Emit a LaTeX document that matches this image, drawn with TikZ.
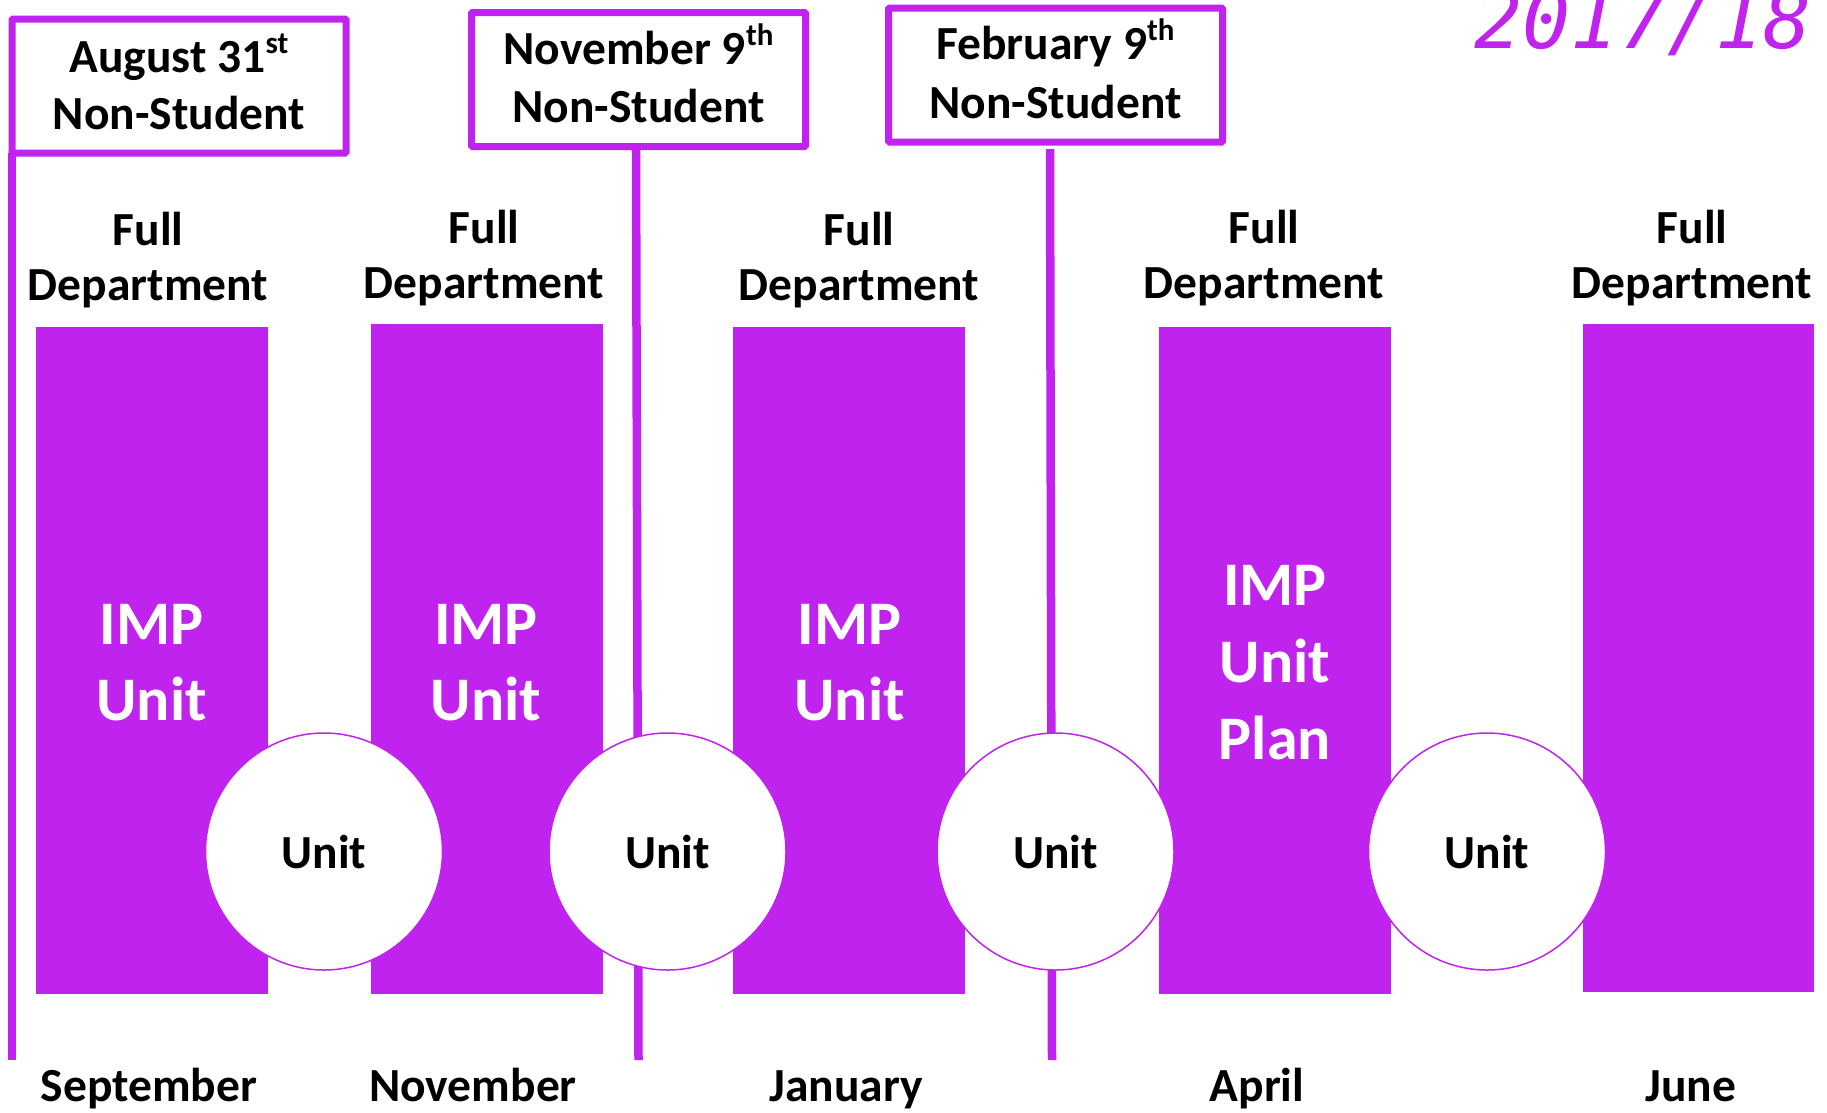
\documentclass[tikz,border=0pt]{standalone}
\usepackage{fontspec}
\setmainfont{Carlito}
\newfontfamily\yearfont{DejaVu Sans Mono Oblique}
\definecolor{vio}{RGB}{193,35,238}
\newcommand{\supx}[1]{\raisebox{0.40em}{\fontsize{31}{31}\selectfont\bfseries\upshape #1}}
\begin{document}
\begin{tikzpicture}[x=1pt,y=-1pt,
  lbl/.style={font=\fontsize{47.5}{57}\selectfont\bfseries, inner sep=0pt, anchor=base, text=black},
  imp/.style={font=\fontsize{62}{76}\selectfont\bfseries, inner sep=0pt, anchor=base, text=white},
  datebox/.style={draw=vio, line width=7pt, minimum width=334pt, minimum height=134pt, inner sep=0pt, rounded corners=1pt},
  bar/.style={fill=vio, inner sep=0pt, minimum width=232pt},
  unitc/.style={circle, draw=vio, line width=1.5pt, fill=white, minimum size=237pt, inner sep=0pt},
  vline/.style={draw=vio, line width=8.5pt}]
\useasboundingbox (0,0) rectangle (1827,1112);

% year
\node[anchor=base east, inner sep=0pt, text=vio, font=\fontsize{80}{80}\selectfont\yearfont] (year) at (1812,48) {2017/18};

% vertical lines
\coordinate (l1top) at (12,153);
\coordinate (l1bot) at (12,1060);
\coordinate (l2top) at (636,147);
\coordinate (l2bot) at (638.5,1060);
\coordinate (l3top) at (1050,149);
\coordinate (l3bot) at (1052,1060);
\draw[vline] (l1top) -- (l1bot);
\draw[vline] (l2top) -- (l2bot);
\draw[vline] (l3top) -- (l3bot);

% date boxes
\node[datebox] (aug) at (179,86) {};
\node[datebox] (nov) at (638.5,79.5) {};
\node[datebox] (feb) at (1055.5,75) {};

\node[lbl] (aug1) at (179,72) {August 31\supx{st}};
\node[lbl] (aug2) at (179,129) {Non-Student};
\node[lbl] (nov1) at (638.5,64) {November 9\supx{th}};
\node[lbl] (nov2) at (638.5,122) {Non-Student};
\node[lbl] (feb1) at (1055.5,59) {February 9\supx{th}};
\node[lbl] (feb2) at (1055.5,118) {Non-Student};

% bars
\node[bar, minimum height=667pt] (b1) at (152,660.5) {};
\node[bar, minimum height=670pt] (b2) at (486.5,659) {};
\node[bar, minimum height=667pt] (b3) at (849,660.5) {};
\node[bar, minimum height=667pt] (b4) at (1275,660.5) {};
\node[bar, minimum height=668pt, minimum width=231pt] (b5) at (1698.5,658) {};

% full department labels
\node[lbl] (f1a) at (148,245) {Full};
\node[lbl] (f1b) at (148,300) {Department};
\node[lbl] (f2a) at (484,243) {Full};
\node[lbl] (f2b) at (484,298) {Department};
\node[lbl] (f3a) at (859,245) {Full};
\node[lbl] (f3b) at (859,300) {Department};
\node[lbl] (f4a) at (1264,243) {Full};
\node[lbl] (f4b) at (1264,298) {Department};
\node[lbl] (f5a) at (1692,243) {Full};
\node[lbl] (f5b) at (1692,298) {Department};

% IMP texts
\node[imp] (i1a) at (151.5,644) {IMP};
\node[imp] (i1b) at (151.5,720) {Unit};
\node[imp] (i2a) at (486,644) {IMP};
\node[imp] (i2b) at (486,720) {Unit};
\node[imp] (i3a) at (849.5,644) {IMP};
\node[imp] (i3b) at (849.5,720) {Unit};
\node[imp] (i4a) at (1275,605) {IMP};
\node[imp] (i4b) at (1275,682) {Unit};
\node[imp] (i4c) at (1275,759) {Plan};

% unit circles
\node[unitc] (c1) at (324,851.5) {};
\node[unitc] (c2) at (667.5,851.5) {};
\node[unitc] (c3) at (1055.5,851.5) {};
\node[unitc] (c4) at (1487,851.5) {};
\node[lbl] (u1) at (324,868) {Unit};
\node[lbl] (u2) at (667.5,868) {Unit};
\node[lbl] (u3) at (1055.5,868) {Unit};
\node[lbl] (u4) at (1487,868) {Unit};

% months
\node[lbl] (m1) at (149,1101.5) {September};
\node[lbl] (m2) at (473,1101.5) {November};
\node[lbl] (m3) at (846,1101.5) {January};
\node[lbl] (m4) at (1257,1101.5) {April};
\node[lbl] (m5) at (1691,1101.5) {June};
\end{tikzpicture}
\end{document}
